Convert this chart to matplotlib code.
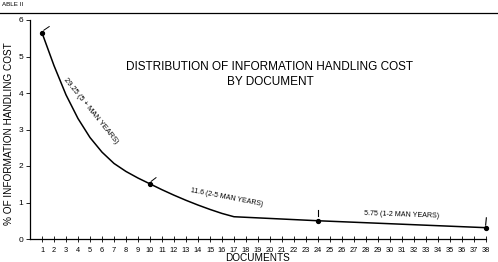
import matplotlib
matplotlib.use("Agg")
import matplotlib.pyplot as plt

plt.rcParams['font.family'] = ['Liberation Sans', 'DejaVu Sans']

documents = list(range(1, 18)) + [24, 38]
cost_pct = [5.65, 4.75, 3.95, 3.3, 2.78, 2.38, 2.07, 1.85, 1.67, 1.51,
            1.35, 1.20, 1.06, 0.93, 0.81, 0.70, 0.61, 0.50, 0.31]
marked_docs = [1, 10, 24, 38]
marked_vals = [5.65, 1.51, 0.50, 0.31]
x_ticks = list(range(1, 39))
y_ticks = [0, 1, 2, 3, 4, 5, 6]

title = "DISTRIBUTION OF INFORMATION HANDLING COST\nBY DOCUMENT"
seg_labels = ["29.25 (5 + MAN YEARS)", "11.6 (2-5 MAN YEARS)", "5.75 (1-2 MAN YEARS)"]

W, H = 498, 262
fig = plt.figure(figsize=(W / 100, H / 100), dpi=100)
ax = fig.add_axes([30 / W, 1 - 239 / H, (486 - 30) / W, (239 - 20) / H])
ax.set_xlim(0, 38)
ax.set_ylim(0, 6)

ax.plot(documents, cost_pct, color='black', lw=1.1, solid_joinstyle='round')
ax.plot(marked_docs, marked_vals, 'o', color='black', ms=2.8, clip_on=False)

# small pointer ticks near the marked points
ax.plot([1.15, 1.6], [5.72, 5.82], color='black', lw=0.7, clip_on=False)
ax.plot([10.1, 10.5], [1.58, 1.68], color='black', lw=0.7, clip_on=False)
ax.plot([24, 24], [0.63, 0.79], color='black', lw=0.8, clip_on=False)
ax.plot([37.97, 38.03], [0.38, 0.58], color='black', lw=0.8, clip_on=False)

for s in ['top', 'right']:
    ax.spines[s].set_visible(False)
ax.spines['left'].set_linewidth(0.9)
ax.spines['bottom'].set_linewidth(0.9)

ax.set_xticks(x_ticks)
ax.set_xticklabels([str(t) for t in x_ticks], fontsize=5.3)
ax.set_yticks(y_ticks)
ax.set_yticklabels([str(t) for t in y_ticks], fontsize=6)
ax.tick_params(axis='x', direction='inout', length=4, width=0.6, pad=4)
ax.tick_params(axis='y', direction='out', length=3, width=0.6, pad=2)

ax.set_xlabel("DOCUMENTS", fontsize=7.2, va='center')
ax.xaxis.set_label_coords((257 - 30) / (486 - 30), -(258 - 239) / (239 - 20))
ax.set_ylabel("% OF INFORMATION HANDLING COST", fontsize=7.2, va='center')
ax.yaxis.set_label_coords(-(30 - 9) / (486 - 30), (239 - 134) / (239 - 20))

fig.text(270 / W, 1 - 74.5 / H, title, ha='center', va='center', fontsize=8.5, linespacing=1.3)

ax.text(5.1, 3.5, seg_labels[0], rotation=-51, ha='center', va='center', fontsize=5.4)
ax.text(16.4, 1.14, seg_labels[1], rotation=-11, ha='center', va='center', fontsize=5.0)
ax.text(31.0, 0.66, seg_labels[2], rotation=-2, ha='center', va='center', fontsize=5.1)

fig.add_artist(plt.Line2D([0, 1], [1 - 13 / H, 1 - 13 / H], color='black', lw=0.9))
fig.text(2 / W, 1 - 4 / H, "ABLE II", ha='left', va='center', fontsize=4.5)

fig.savefig("out.png", dpi=100)
